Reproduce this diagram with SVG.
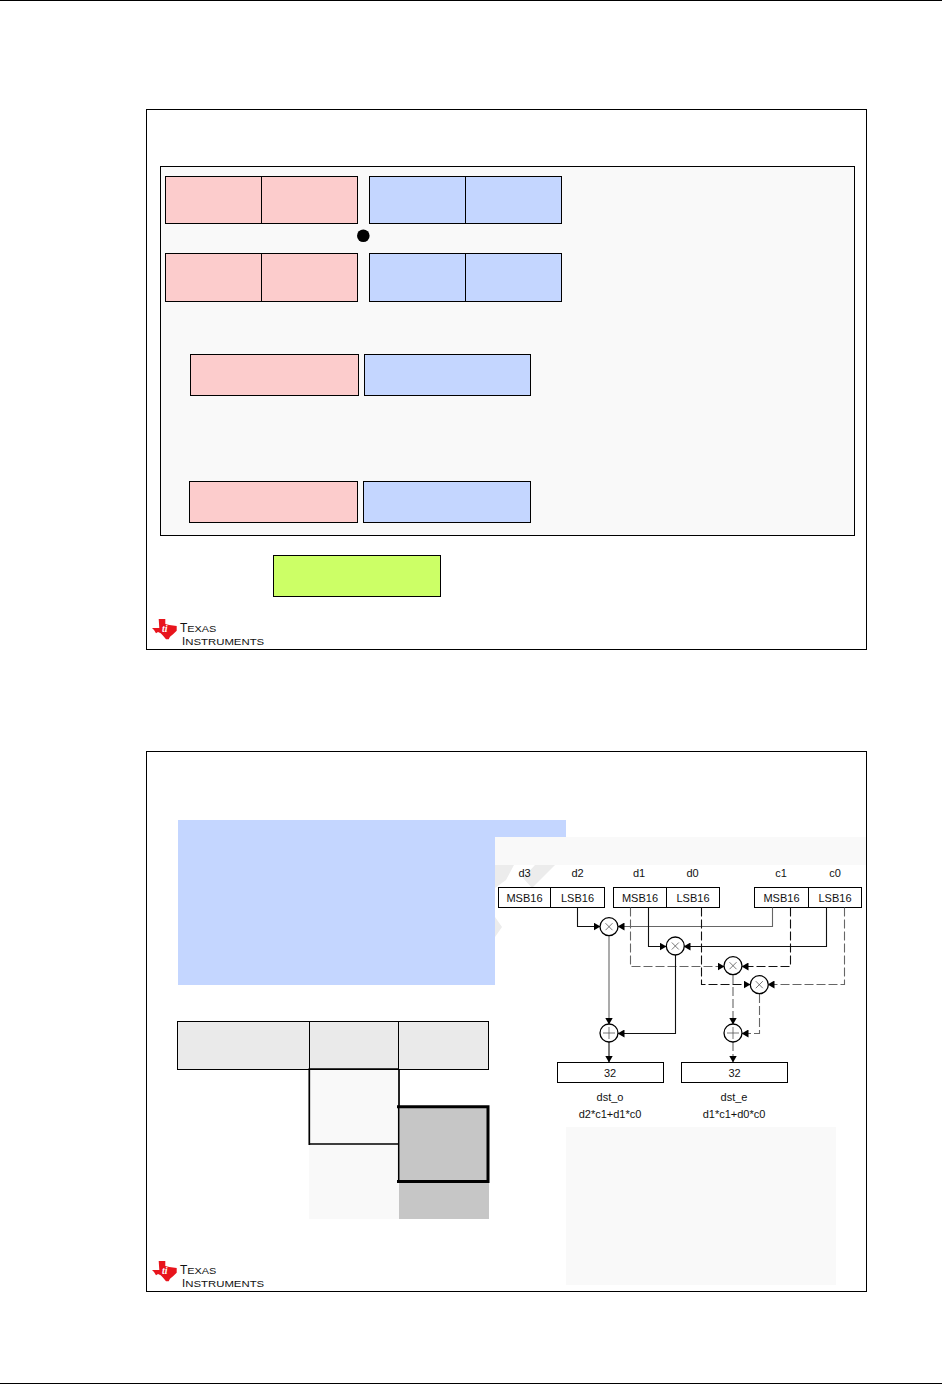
<svg xmlns="http://www.w3.org/2000/svg" width="942" height="1384" viewBox="0 0 942 1384">
<defs>
<style>
.fr{fill:#fff;stroke:#000;stroke-width:1}
.p{fill:#fccccc;stroke:#000;stroke-width:1}
.b{fill:#c4d6ff;stroke:#000;stroke-width:1}
.t{fill:#eaeaea;stroke:#000;stroke-width:1}
.w{fill:#fff;stroke:#000;stroke-width:1}
.n{fill:none;stroke:#000}
.c{fill:none;stroke:#111;stroke-width:1.100}
.g{fill:none;stroke:#666;stroke-width:1.100}
.d{stroke-dasharray:9 3}
.l{font:11px "Liberation Sans",Arial,sans-serif;fill:#111;text-anchor:middle}
.lg{font-family:"Liberation Sans",Arial,sans-serif;fill:#111;font-size:9.500px}
.lg .cap{font-size:12px}
.lg .cap2{font-size:11.500px}
.ti{font:italic bold 10px "Liberation Serif",serif;fill:#fff}
.o{fill:#fff;stroke:#000;stroke-width:1.300}
.x{fill:none;stroke:#555;stroke-width:.8}
.m{fill:#e8141c}
</style>
<marker id="a" markerWidth="7" markerHeight="8" refX="6.500" refY="4" orient="auto" markerUnits="userSpaceOnUse"><path d="M0 0L7 4L0 8z" fill="#000"/></marker>
</defs>
<rect width="942" height="1384" fill="#fff"/>
<path class="n" d="M0 .5H942M0 1383.500H942"/>

<g id="slide1">
<rect class="fr" x="146.500" y="109.500" width="720" height="540"/>
<rect x="160.500" y="166.500" width="694" height="369" fill="#f9f9f9" stroke="#000"/>
</g>
<g id="row1-red"><rect class="p" x="165.500" y="176.500" width="192" height="47"/><path class="n" d="M261.500 176.500V223.500"/></g>
<g id="row1-blue"><rect class="b" x="369.500" y="176.500" width="192" height="47"/><path class="n" d="M465.500 176.500V223.500"/></g>
<circle id="dot" cx="363.300" cy="235.700" r="6.300" fill="#000"/>
<g id="row2-red"><rect class="p" x="165.500" y="253.500" width="192" height="48"/><path class="n" d="M261.500 253.500V301.500"/></g>
<g id="row2-blue"><rect class="b" x="369.500" y="253.500" width="192" height="48"/><path class="n" d="M465.500 253.500V301.500"/></g>
<g id="row3-red"><rect class="p" x="190.500" y="354.500" width="168" height="41"/></g>
<g id="row3-blue"><rect class="b" x="364.500" y="354.500" width="166" height="41"/></g>
<g id="row4-red"><rect class="p" x="189.500" y="481.500" width="168" height="41"/></g>
<g id="row4-blue"><rect class="b" x="363.500" y="481.500" width="167" height="41"/></g>
<g id="result"><rect x="273.500" y="555.500" width="167" height="41" fill="#ccff66" stroke="#000"/></g>
<g id="logo1">
<path class="m" d="M158.700 619H165.300V624L169.300 625L176.700 626V630.700L173.300 634L170 636.700L168.700 639.300H166L163.300 636L160.700 633.300L158 632L156 633.300L154 630L152 628H159.300z"/>
<text class="ti" x="162" y="632">ti</text>
<text class="lg"><tspan class="cap" x="180" y="632">T</tspan><tspan textLength="29" lengthAdjust="spacingAndGlyphs">EXAS</tspan><tspan class="cap2" x="182" y="645">I</tspan><tspan textLength="79" lengthAdjust="spacingAndGlyphs">NSTRUMENTS</tspan></text>
</g>

<g id="slide2"><rect class="fr" x="146.500" y="751.500" width="720" height="540"/></g>
<rect id="blue-panel" x="178" y="820" width="388" height="165" fill="#c4d6ff"/>
<path id="white-cover" d="M495 837H866V1000H495z" fill="#fff"/>
<rect id="strip" x="495" y="837" width="371" height="28" fill="#f9f9f9"/>
<path id="mark" d="M495 865H514L506 880L495 888zM535 865H555L532 888L523 878zM495 917L502 927L495 937z" fill="#ececec"/>

<g id="table">
<rect x="309" y="1069" width="90" height="150" fill="#f9f9f9"/>
<rect x="399" y="1106" width="90" height="113" fill="#c6c6c6"/>
<rect class="t" x="177.500" y="1021.500" width="311" height="48"/>
<path class="n" d="M309.500 1021.500V1069.500M398.500 1021.500V1069.500"/>
<path class="n" stroke-width="1.700" d="M399 1069H309.300V1145M309 1144H399M399 1069V1106"/>
<path class="n" stroke-width="1.500" d="M398.700 1106V1182"/>
<path class="n" stroke-width="3" d="M397 1106.700H488V1181.400H397"/>
</g>
<rect id="note" x="566" y="1127" width="270" height="158" fill="#f9f9f9"/>

<g id="regs">
<rect class="w" x="498.500" y="887.500" width="106" height="20"/><path class="n" d="M550.500 887.500V907.500"/>
<rect class="w" x="613.500" y="887.500" width="106" height="20"/><path class="n" d="M666.500 887.500V907.500"/>
<rect class="w" x="754.500" y="887.500" width="107" height="20"/><path class="n" d="M808.500 887.500V907.500"/>
<text class="l" x="524.500" y="877">d3</text><text class="l" x="577.500" y="877">d2</text>
<text class="l" x="639" y="877">d1</text><text class="l" x="692.500" y="877">d0</text>
<text class="l" x="781" y="877">c1</text><text class="l" x="835" y="877">c0</text>
<text class="l" x="524.500" y="901.500">MSB16</text><text class="l" x="577.500" y="901.500">LSB16</text>
<text class="l" x="640" y="901.500">MSB16</text><text class="l" x="693" y="901.500">LSB16</text>
<text class="l" x="781.500" y="901.500">MSB16</text><text class="l" x="835" y="901.500">LSB16</text>
</g>
<g id="connectors">
<path class="c" marker-end="url(#a)" d="M577.500 907.500V926.500H600"/>
<path class="g" marker-end="url(#a)" d="M772.500 907.500V926.500H618"/>
<path class="c" marker-end="url(#a)" d="M648.500 907.500V946.500H666"/>
<path class="c" marker-end="url(#a)" d="M826.500 907.500V946.500H684"/>
<path class="g d" marker-end="url(#a)" d="M630.500 907.500V966.500H724"/>
<path class="c d" marker-end="url(#a)" d="M790.500 907.500V966.500H742"/>
<path class="c d" marker-end="url(#a)" d="M701.500 907.500V984.500H750"/>
<path class="g d" marker-end="url(#a)" d="M844.500 907.500V984.500H768"/>
<path class="g" marker-end="url(#a)" d="M609 936V1024"/>
<path class="c" marker-end="url(#a)" d="M675.500 955V1033.500H618"/>
<path class="g d" marker-end="url(#a)" d="M733 975V1024"/>
<path class="g d" marker-end="url(#a)" d="M759.500 994V1033.500H742"/>
<path class="c" marker-end="url(#a)" d="M609 1042V1062"/>
<path class="g d" marker-end="url(#a)" d="M733 1042V1062"/>
</g>
<g id="mul1"><circle class="o" cx="609" cy="926.700" r="9"/><path class="x" d="M605.500 923.200l7 7m0-7l-7 7"/></g>
<g id="mul2"><circle class="o" cx="675.300" cy="946" r="9"/><path class="x" d="M671.800 942.500l7 7m0-7l-7 7"/></g>
<g id="mul3"><circle class="o" cx="733" cy="965.700" r="9"/><path class="x" d="M729.500 962.200l7 7m0-7l-7 7"/></g>
<g id="mul4"><circle class="o" cx="759.300" cy="984.700" r="9"/><path class="x" d="M755.800 981.200l7 7m0-7l-7 7"/></g>
<g id="add1"><circle class="o" cx="609" cy="1033" r="9"/><path class="x" d="M603 1033h12M609 1027v12"/></g>
<g id="add2"><circle class="o" cx="733" cy="1033" r="9"/><path class="x" d="M727 1033h12M733 1027v12"/></g>
<g id="out-o"><rect class="w" x="557.500" y="1062.500" width="106" height="20"/><text class="l" x="610" y="1076.500">32</text>
<text class="l" x="610" y="1101">dst_o</text><text class="l" x="610" y="1117.500">d2*c1+d1*c0</text></g>
<g id="out-e"><rect class="w" x="681.500" y="1062.500" width="106" height="20"/><text class="l" x="734.500" y="1076.500">32</text>
<text class="l" x="734" y="1101">dst_e</text><text class="l" x="734" y="1117.500">d1*c1+d0*c0</text></g>
<g id="logo2" transform="translate(0,642)">
<path class="m" d="M158.700 619H165.300V624L169.300 625L176.700 626V630.700L173.300 634L170 636.700L168.700 639.300H166L163.300 636L160.700 633.300L158 632L156 633.300L154 630L152 628H159.300z"/>
<text class="ti" x="162" y="632">ti</text>
<text class="lg"><tspan class="cap" x="180" y="632">T</tspan><tspan textLength="29" lengthAdjust="spacingAndGlyphs">EXAS</tspan><tspan class="cap2" x="182" y="645">I</tspan><tspan textLength="79" lengthAdjust="spacingAndGlyphs">NSTRUMENTS</tspan></text>
</g>
</svg>
